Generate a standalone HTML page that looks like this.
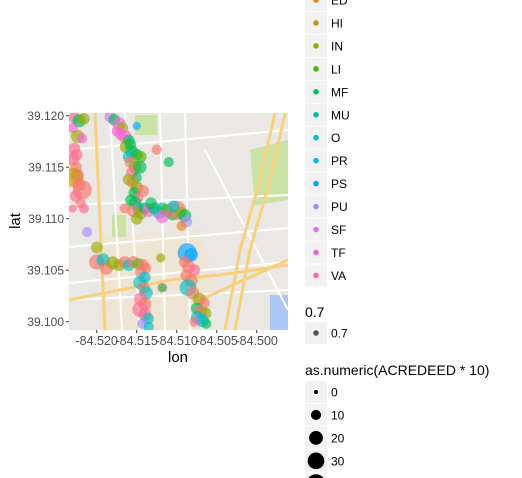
<!DOCTYPE html>
<html><head><meta charset="utf-8"><style>
body{margin:0;background:#fff;}
svg{display:block;font-family:"Liberation Sans",sans-serif;}
</style></head><body>
<svg id="chart" width="522" height="478" viewBox="0 0 522 478">
<defs><clipPath id="panelClip"><rect x="69" y="113" width="219" height="217"/></clipPath></defs>
<g id="mapbg" clip-path="url(#panelClip)">
  <rect x="69" y="113" width="219" height="217" fill="#e9e8e4"/>
  <polygon points="100,235 200,230 215,285 200,330 100,330" fill="#efe3cf" opacity="0.8"/>
  <rect x="135" y="115" width="22" height="20" fill="#c8e3a4"/>
  <rect x="112" y="215" width="14" height="22" fill="#c8e3a4"/>
  <polygon points="250,150 288,140 288,200 255,205" fill="#c8e3a4"/>
  <rect x="270" y="295" width="18" height="35" fill="#a9c8f5"/>
  <g stroke="#ffffff" stroke-width="2" fill="none">
    <line x1="69" y1="205" x2="288" y2="195"/>
    <line x1="69" y1="247" x2="288" y2="228"/>
    <line x1="69" y1="283" x2="288" y2="262"/>
    <line x1="69" y1="300" x2="288" y2="290"/>
    <line x1="110" y1="113" x2="122" y2="330"/>
    <line x1="125" y1="113" x2="140" y2="330"/>
    <line x1="160" y1="113" x2="165" y2="330"/>
    <line x1="185" y1="113" x2="190" y2="330"/>
    <line x1="205" y1="150" x2="288" y2="310"/>
    <line x1="69" y1="150" x2="288" y2="130"/>
  </g>
  <g stroke="#f7d17e" stroke-width="3" fill="none">
    <line x1="95" y1="113" x2="105" y2="330"/>
    <polyline points="225,330 240,250 260,180 275,113"/>
    <polyline points="235,330 250,250 270,180 285,113"/>
    <polyline points="69,300 120,290 170,280 220,275 288,265"/>
    <line x1="200" y1="300" x2="288" y2="260"/>
  </g>
</g>
<g id="points" clip-path="url(#panelClip)"></g>
<g id="axes"></g>
<g id="legend"></g>
</svg>
<script>
const categories=['CO','ED','HI','IN','LI','MF','MU','O','PR','PS','PU','SF','TF','VA'];
const catColors=['#F8766D','#E7861B','#C49A00','#99A800','#53B400','#00BC56','#00C094','#00BFC4','#00B6EB','#06A4FF','#A58AFF','#DF70F8','#FB61D7','#FF6C91'];
const lonTicks=[-84.520,-84.515,-84.510,-84.505,-84.500];
const latTicks=[39.100,39.105,39.110,39.115,39.120];
const sizeLegendValues=[0,10,20,30,40];
const lons=[-84.5228,-84.5222,-84.5216,-84.5230,-84.5224,-84.5218,-84.5228,-84.5230,-84.5226,-84.5224,-84.5229,-84.5218,-84.5226,-84.5220,-84.5216,-84.5230,-84.5212,-84.5200,
-84.5183,-84.5178,-84.5172,-84.5168,-84.5175,-84.5165,-84.5160,-84.5163,-84.5156,-84.5160,-84.5150,-84.5145,-84.5158,-84.5152,-84.5156,-84.5150,-84.5155,-84.5150,-84.5153,-84.5148,-84.5152,-84.5148,-84.5154,-84.5145,-84.5140,-84.5135,-84.5128,-84.5122,-84.5118,-84.5112,-84.5105,-84.5100,-84.5095,-84.5090,-84.5088,-84.5094,-84.5125,-84.5150,-84.5110,-84.5165,
-84.5200,-84.5192,-84.5188,-84.5180,-84.5172,-84.5165,-84.5160,-84.5154,-84.5148,-84.5142,-84.5138,-84.5120,
-84.5145,-84.5140,-84.5146,-84.5141,-84.5138,-84.5145,-84.5140,-84.5146,-84.5140,-84.5136,-84.5143,-84.5135,
-84.5087,-84.5082,-84.5090,-84.5085,-84.5078,-84.5088,-84.5082,-84.5086,-84.5080,-84.5118,-84.5118,
-84.5072,-84.5066,-84.5075,-84.5070,-84.5064,-84.5074,-84.5068,-84.5063,-84.5078,
-84.5170,-84.5158,-84.5146,-84.5160,-84.5142,-84.5132,-84.5118,-84.5104,-84.5150,-84.5157,-84.5225,-84.5222];
const lats=[39.1198,39.1195,39.1197,39.1188,39.1180,39.1178,39.1168,39.1158,39.1150,39.1142,39.1140,39.1128,39.1122,39.1115,39.1110,39.1110,39.1087,39.1072,
39.1199,39.1196,39.1192,39.1188,39.1185,39.1180,39.1176,39.1170,39.1165,39.1160,39.1162,39.1160,39.1155,39.1150,39.1145,39.1140,39.1135,39.1130,39.1125,39.1120,39.1115,39.1110,39.1108,39.1105,39.1110,39.1108,39.1110,39.1106,39.1110,39.1108,39.1104,39.1108,39.1106,39.1103,39.1097,39.1093,39.1167,39.1190,39.1155,39.1110,
39.1058,39.1060,39.1052,39.1057,39.1055,39.1058,39.1055,39.1058,39.1056,39.1055,39.1052,39.1062,
39.1048,39.1043,39.1038,39.1033,39.1028,39.1022,39.1017,39.1012,39.1007,39.1003,39.0998,39.0995,
39.1067,39.1065,39.1058,39.1053,39.1050,39.1045,39.1040,39.1033,39.1028,39.1033,39.1033,
39.1022,39.1018,39.1013,39.1010,39.1008,39.1004,39.1001,39.0998,39.1000,
39.1182,39.1172,39.1150,39.1138,39.1127,39.1115,39.1102,39.1112,39.1100,39.1118,39.1162,39.1133];
const cats=[13,5,3,12,3,12,13,13,0,13,2,0,13,0,13,13,10,3,
11,5,12,3,12,12,5,3,5,7,5,4,0,3,13,5,0,3,5,13,5,7,0,3,5,12,5,7,6,4,5,0,3,5,10,1,0,9,5,0,
0,7,0,3,3,0,7,0,4,0,0,3,
0,7,7,0,7,13,0,13,13,7,10,7,
9,9,0,0,13,0,0,7,0,10,4,
3,0,5,0,3,7,8,5,13,
12,5,5,3,0,5,12,7,3,5,13,0];
const sizes=[14,18,14,10,18,10,14,18,14,18,40,40,14,10,10,6,10,14,
14,14,18,14,10,18,14,18,18,14,14,14,14,18,14,10,14,18,14,10,18,14,18,14,14,18,14,18,14,18,14,40,14,18,14,10,10,6,10,10,
25,18,18,18,14,14,14,14,14,14,10,8,
14,14,18,14,18,18,18,25,18,14,10,10,
40,20,14,18,14,14,18,30,18,10,6,
18,14,14,18,14,18,18,10,10,
14,14,18,14,14,14,18,14,14,14,14,18];

const NS='http://www.w3.org/2000/svg';
function xScale(lon){return 96.7+(lon+84.52)*8000;}
function yScale(lat){return 115.7+(39.12-lat)*10300;}
function rScale(v){return Math.sqrt(4+2.17*v);}
function mk(tag,attrs,parent){const e=document.createElementNS(NS,tag);for(const k in attrs)e.setAttribute(k,attrs[k]);parent.appendChild(e);return e;}

const pts=document.getElementById('points');
for(let i=0;i<lons.length;i++){
  const c=mk('circle',{cx:xScale(lons[i]),cy:yScale(lats[i]),r:rScale(sizes[i]),fill:catColors[cats[i]],'fill-opacity':0.65},pts);
  
  
}
const ax=document.getElementById('axes');
lonTicks.forEach(t=>{
  const x=xScale(t);
  const l=mk('line',{x1:x,x2:x,y1:330,y2:333,stroke:'#333','stroke-width':1},ax);
  
  
  const tx=mk('text',{x:x,y:345,'font-size':12.5,fill:'#4d4d4d','text-anchor':'middle'},ax);
  tx.textContent=t.toFixed(3);
  
  
});
latTicks.forEach(t=>{
  const y=yScale(t);
  const l=mk('line',{x1:66,x2:69,y1:y,y2:y,stroke:'#333','stroke-width':1},ax);
  
  
  const tx=mk('text',{x:64,y:y+4.5,'font-size':12,fill:'#4d4d4d','text-anchor':'end'},ax);
  tx.textContent=t.toFixed(3);
  
  
});
const xt=mk('text',{x:178,y:362,'font-size':15,fill:'#000','text-anchor':'middle'},ax);
xt.textContent='lon';


const yt=mk('text',{x:20,y:221,'font-size':15,fill:'#000','text-anchor':'middle',transform:'rotate(-90 20 221)'},ax);
yt.textContent='lat';



const lg=document.getElementById('legend');
for(let i=1;i<categories.length;i++){
  const cy=(i-1)*22.95;
  const k=mk('rect',{x:305,y:cy-11,width:22,height:22,fill:'#f2f2f2'},lg);
  
  
  const d=mk('circle',{cx:316,cy:cy,r:2.8,fill:catColors[i]},lg);
  
  
  const t=mk('text',{x:331,y:cy+4.5,'font-size':12,fill:'#000'},lg);
  t.textContent=categories[i];
  
  
}
const at=mk('text',{x:305,y:317,'font-size':14,fill:'#000'},lg);
at.textContent='0.7';


const ak=mk('rect',{x:305,y:322,width:22,height:22,fill:'#f2f2f2'},lg);


const ad=mk('circle',{cx:316,cy:333,r:2.8,fill:'#555'},lg);


const al=mk('text',{x:331,y:337.5,'font-size':12,fill:'#000'},lg);
al.textContent='0.7';


const st=mk('text',{x:305,y:375,'font-size':14,fill:'#000'},lg);
st.textContent='as.numeric(ACREDEED * 10)';


sizeLegendValues.forEach((v,i)=>{
  const cy=392+i*22.95;
  const k=mk('rect',{x:305,y:cy-11,width:22,height:22,fill:'#f2f2f2'},lg);
  
  
  const d=mk('circle',{cx:316,cy:cy,r:rScale(v),fill:'#000'},lg);
  
  
  const t=mk('text',{x:331,y:cy+4.5,'font-size':12,fill:'#000'},lg);
  t.textContent=String(v);
  
  
});
</script>
</body></html>
